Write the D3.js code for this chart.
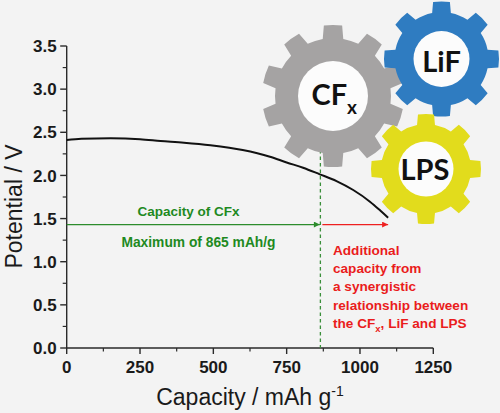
<!DOCTYPE html>
<html>
<head>
<meta charset="utf-8">
<script src="https://cdn.jsdelivr.net/npm/d3@7"></script>
<style>
  html, body { margin: 0; padding: 0; background: #f3f3f3; }
  svg { display: block; }
  .tick-label { font-family: "Liberation Sans", Arial, sans-serif; font-weight: bold; font-size: 17px; fill: #1a1a1a; }
  .axis-title { font-family: "Liberation Sans", Arial, sans-serif; font-size: 23px; fill: #1a1a1a; }
  .note { font-family: "Liberation Sans", Arial, sans-serif; font-weight: bold; }
  .gear-text { font-family: Lato, "Open Sans", sans-serif; font-weight: bold; fill: #111; }
</style>
</head>
<body>
<div id="chart"></div>
<script>
// Discharge curve
const capacity  = [0, 50, 150, 250, 320, 400, 490, 600, 693, 750, 806, 863, 920, 977, 1034, 1070, 1096];
const potential = [2.41, 2.425, 2.43, 2.42, 2.40, 2.38, 2.35, 2.295, 2.217, 2.15, 2.089, 2.013, 1.935, 1.831, 1.696, 1.59, 1.51];

const xTicks = [0, 250, 500, 750, 1000, 1250];
const yTicks = [0.0, 0.5, 1.0, 1.5, 2.0, 2.5, 3.0, 3.5];

const cfxMax = 865;       // mAh/g, dashed line
const arrowV = 1.43;      // height of the two arrows
const arrowEnd = 1096;    // end of red arrow

const redLines = ["Additional", "capacity from", "a synergistic", "relationship between"];

const width = 500, height = 413;

const svg = d3.select('#chart').append('svg')
    .attr('width', width)
    .attr('height', height);

svg.append('rect').attr('width', width).attr('height', height).attr('fill', '#f3f3f3');

const x = d3.scaleLinear().domain([0, 1250]).range([66.7, 433.3]);
const y = d3.scaleLinear().domain([0, 3.5]).range([348, 46]);

const axisColor = '#2a2a2a';

// y axis
const yAxis = svg.append('g');
yAxis.append('line')
    .attr('x1', x(0)).attr('x2', x(0))
    .attr('y1', y(0)).attr('y2', y(3.5))
    .attr('stroke', axisColor).attr('stroke-width', 1.4);
yAxis.selectAll('.minor')
    .data(d3.range(0, 3.5, 0.25).filter((d, i) => i % 2 === 1))
    .enter().append('line')
    .attr('x1', x(0) - 4).attr('x2', x(0))
    .attr('y1', d => y(d)).attr('y2', d => y(d))
    .attr('stroke', axisColor).attr('stroke-width', 1.2);
yAxis.selectAll('.major')
    .data(yTicks)
    .enter().append('line')
    .attr('x1', x(0) - 6.5).attr('x2', x(0))
    .attr('y1', d => y(d)).attr('y2', d => y(d))
    .attr('stroke', axisColor).attr('stroke-width', 1.4);
yAxis.selectAll('text')
    .data(yTicks)
    .enter().append('text')
    .attr('class', 'tick-label')
    .attr('x', x(0) - 10)
    .attr('y', d => y(d))
    .attr('dy', '0.36em')
    .attr('text-anchor', 'end')
    .text(d => d.toFixed(1));

// x axis
const xAxis = svg.append('g');
xAxis.append('line')
    .attr('x1', x(0)).attr('x2', x(1250))
    .attr('y1', y(0)).attr('y2', y(0))
    .attr('stroke', axisColor).attr('stroke-width', 1.4);
xAxis.selectAll('.minor')
    .data(d3.range(125, 1250, 250))
    .enter().append('line')
    .attr('x1', d => x(d)).attr('x2', d => x(d))
    .attr('y1', y(0)).attr('y2', y(0) + 3.5)
    .attr('stroke', axisColor).attr('stroke-width', 1.2);
xAxis.selectAll('.major')
    .data(xTicks)
    .enter().append('line')
    .attr('x1', d => x(d)).attr('x2', d => x(d))
    .attr('y1', y(0)).attr('y2', y(0) + 6)
    .attr('stroke', axisColor).attr('stroke-width', 1.4);
xAxis.selectAll('text')
    .data(xTicks)
    .enter().append('text')
    .attr('class', 'tick-label')
    .attr('x', d => x(d))
    .attr('y', 373)
    .attr('text-anchor', 'middle')
    .text(d => d);

// axis titles
svg.append('text')
    .attr('class', 'axis-title')
    .attr('transform', 'translate(22,206.5) rotate(-90)')
    .attr('text-anchor', 'middle')
    .text('Potential / V');

const xt = svg.append('text')
    .attr('class', 'axis-title')
    .attr('x', 250)
    .attr('y', 405)
    .attr('text-anchor', 'middle');
xt.append('tspan').text('Capacity / mAh g');
xt.append('tspan').attr('dy', -9).attr('font-size', 14).text('-1');

// gears (decoration)
function gearPath(n, rOut, rRoot, tipHalf, baseHalf) {
    const p = d3.path();
    const step = 2 * Math.PI / n;
    const pt = (r, a) => [r * Math.sin(a), -r * Math.cos(a)];
    for (let i = 0; i < n; i++) {
        const a = i * step;
        const pts = [
            pt(rRoot, a - baseHalf),
            pt(rOut, a - tipHalf),
            pt(rOut, a + tipHalf),
            pt(rRoot, a + baseHalf)
        ];
        if (i === 0) p.moveTo(pts[0][0], pts[0][1]);
        else p.lineTo(pts[0][0], pts[0][1]);
        p.lineTo(pts[1][0], pts[1][1]);
        p.arc(0, 0, rOut, a - tipHalf - Math.PI / 2, a + tipHalf - Math.PI / 2);
        p.lineTo(pts[3][0], pts[3][1]);
        p.arc(0, 0, rRoot, a + baseHalf - Math.PI / 2, a + step - baseHalf - Math.PI / 2);
    }
    p.closePath();
    return p.toString();
}

const deg = Math.PI / 180;
const gears = [
    { cx: 333, cy: 96, n: 10, rOut: 71, rRoot: 58, rIn: 35, tip: 7.4 * deg, base: 10.2 * deg, color: '#a5a3a3' },
    { cx: 441.5, cy: 59, n: 8, rOut: 57.5, rRoot: 47, rIn: 28, tip: 8.4 * deg, base: 11.5 * deg, color: '#2f7cc1' },
    { cx: 426, cy: 169, n: 8, rOut: 55, rRoot: 45, rIn: 27.5, tip: 8.4 * deg, base: 11.5 * deg, color: '#e2dc1c' }
];

// dashed line limit of CFx (drawn under the gears)
svg.append('line')
    .attr('x1', x(cfxMax)).attr('x2', x(cfxMax))
    .attr('y1', 150).attr('y2', y(0))
    .attr('stroke', '#3a8f3a').attr('stroke-width', 1.3)
    .attr('stroke-dasharray', '3.5,3');

const gg = svg.selectAll('.gear')
    .data(gears)
    .enter().append('g')
    .attr('class', 'gear')
    .attr('transform', d => `translate(${d.cx},${d.cy})`);
gg.append('path')
    .attr('d', d => gearPath(d.n, d.rOut, d.rRoot, d.tip, d.base))
    .attr('fill', d => d.color);
gg.append('circle')
    .attr('r', d => d.rIn)
    .attr('fill', '#fcfcfc');

const cfText = svg.append('text')
    .attr('class', 'gear-text')
    .attr('x', 311.5).attr('y', 105)
    .attr('font-size', 29);
cfText.append('tspan').text('CF');
cfText.append('tspan').attr('dy', 9).attr('font-size', 19).text('x');

svg.append('text').attr('class', 'gear-text')
    .attr('x', 441.5).attr('y', 71.5)
    .attr('text-anchor', 'middle').attr('font-size', 29)
    .text('LiF');
svg.append('text').attr('class', 'gear-text')
    .attr('x', 425).attr('y', 180)
    .attr('text-anchor', 'middle').attr('font-size', 29)
    .text('LPS');

// discharge curve
const line = d3.line()
    .x(d => x(d[0]))
    .y(d => y(d[1]))
    .curve(d3.curveMonotoneX);
svg.append('path')
    .datum(d3.zip(capacity, potential))
    .attr('d', line)
    .attr('fill', 'none')
    .attr('stroke', '#111')
    .attr('stroke-width', 2);

// arrows
const defs = svg.append('defs');
[['green', '#2c8c2c'], ['red', '#ee2020']].forEach(([id, c]) => {
    defs.append('marker')
        .attr('id', 'arrow-' + id)
        .attr('viewBox', '0 0 10 10')
        .attr('refX', 10).attr('refY', 5)
        .attr('markerWidth', 8).attr('markerHeight', 6)
        .attr('markerUnits', 'userSpaceOnUse')
        .attr('orient', 'auto')
        .append('path')
        .attr('d', 'M0,0 L10,5 L0,10 Z')
        .attr('fill', c);
});

svg.append('line')
    .attr('x1', x(0)).attr('x2', x(cfxMax) - 0.5)
    .attr('y1', y(arrowV)).attr('y2', y(arrowV))
    .attr('stroke', '#2c8c2c').attr('stroke-width', 1.4)
    .attr('marker-end', 'url(#arrow-green)');
svg.append('line')
    .attr('x1', x(cfxMax) + 2).attr('x2', x(arrowEnd))
    .attr('y1', y(arrowV)).attr('y2', y(arrowV))
    .attr('stroke', '#ee2020').attr('stroke-width', 1.4)
    .attr('marker-end', 'url(#arrow-red)');

// green notes
svg.append('text').attr('class', 'note')
    .attr('x', 188.5).attr('y', 215.5)
    .attr('text-anchor', 'middle').attr('font-size', 13.5)
    .attr('fill', '#1f8a1f')
    .text('Capacity of CFx');
svg.append('text').attr('class', 'note')
    .attr('x', 198.5).attr('y', 246.5)
    .attr('text-anchor', 'middle').attr('font-size', 13.8)
    .attr('fill', '#1f8a1f')
    .text('Maximum of 865 mAh/g');

// red note
const red = svg.append('text').attr('class', 'note')
    .attr('font-size', 13.6)
    .attr('fill', '#ea1c1c');
redLines.forEach((t, i) => {
    red.append('tspan').attr('x', 333).attr('y', 255 + i * 18.2).text(t);
});
const last = red.append('tspan').attr('x', 333).attr('y', 255 + 4 * 18.2);
last.text('the CF');
red.append('tspan').attr('dy', 4).attr('font-size', 9.5).text('x');
red.append('tspan').attr('dy', -4).text(', LiF and LPS');
</script>
</body>
</html>
